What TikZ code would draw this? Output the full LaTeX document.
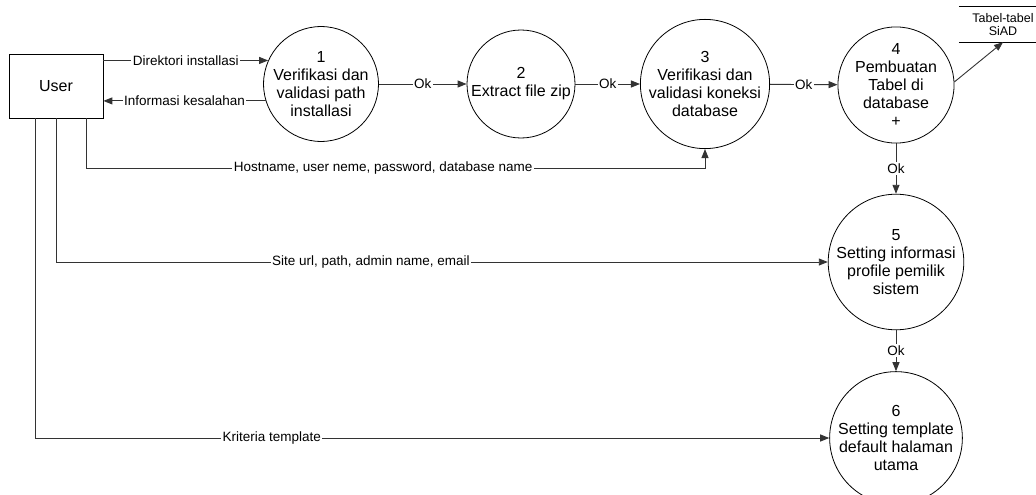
\documentclass[tikz,border=0pt]{standalone}
\usepackage{fontspec}
\setmainfont{Liberation Sans}
\usetikzlibrary{arrows.meta,calc}
\begin{document}
\begin{tikzpicture}[x=1pt,y=-1pt,
  proc/.style={circle,draw,line width=0.8pt,minimum size=114pt,inner sep=0pt,align=center,font=\fontsize{16}{18}\selectfont},
  flow/.style={draw=black!80,line width=0.9pt,-{Triangle[length=9pt,width=7pt]}},
  lbl/.style={fill=white,inner sep=1.5pt,font=\fontsize{13.5}{15}\selectfont}]
\useasboundingbox (0,0) rectangle (1036,495);
\node[draw,line width=0.8pt,minimum width=94pt,minimum height=64pt,font=\fontsize{16}{18}\selectfont] (user) at (56,86) {User};
\node[proc,minimum size=112pt] (c1) at (321,84) {1\\Verifikasi dan\\validasi path\\installasi};
\node[proc,minimum size=108pt] (c2) at (521,84) {2\\Extract file zip};
\node[proc,minimum size=116pt] (c3) at (705,84) {3\\Verifikasi dan\\validasi koneksi\\database};
\node[proc,minimum size=116pt] (c4) at (896,85) {4\\Pembuatan\\Tabel di\\database\\+};
\node[proc,minimum size=117pt] (c5) at (896,262) {5\\Setting informasi\\profile pemilik\\sistem};
\node[proc,minimum size=117pt] (c6) at (896,438) {6\\Setting template\\default halaman\\utama};
\node[minimum width=88pt,minimum height=35pt,inner sep=0pt,align=center,font=\fontsize{12.5}{12.5}\selectfont] (store) at (1003,24.5) {Tabel-tabel\\SiAD};
\draw[line width=0.8pt] (store.north west) -- (store.north east) (store.south west) -- (store.south east);

\draw[flow] (c1.156 -| user.east) -- node[lbl]{Direktori installasi} (c1.156);
\draw[flow] (c1.197) -- node[lbl]{Informasi kesalahan} (c1.197 -| user.east);
\draw[flow] (c1) -- node[lbl]{Ok} (c2);
\draw[flow] (c2) -- node[lbl]{Ok} (c3);
\draw[flow] (c3) -- node[lbl]{Ok} (c4);
\draw[flow] (c4.3) -- (store.south);
\draw[flow] (c4) -- node[lbl]{Ok} (c5);
\draw[flow] (c5) -- node[lbl]{Ok} (c6);

\coordinate (h1) at (86,168);
\coordinate (k1) at (35,0);
\draw[flow] (user.south -| h1) -- (h1) -- node[lbl,pos=0.48]{Hostname, user neme, password, database name} (h1 -| c3.south) -- (c3.south);
\draw[flow] (user.south) |- node[lbl,pos=0.704]{Site url, path, admin name, email} (c5.west);
\draw[flow] (user.south -| k1) |- node[lbl,pos=0.649]{Kriteria template} (c6.west);
\end{tikzpicture}
\end{document}
